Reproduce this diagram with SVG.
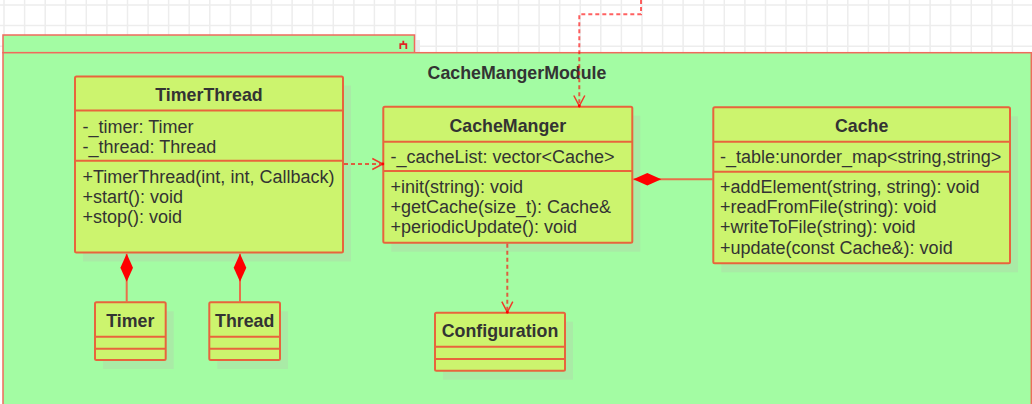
<svg xmlns="http://www.w3.org/2000/svg" width="1032" height="404" viewBox="0 0 1032 404">
<defs>
<style>
.cls{fill:#CCF46E;stroke:#E8643C;stroke-width:2}
.sh{fill:#A9EBA6}
.div{stroke:#E8643C;stroke-width:2}
.t{font-family:"Liberation Sans",Arial,sans-serif;font-size:18px;fill:#333333}
.b{font-weight:bold;text-anchor:middle;font-size:17.8px}
.dash{fill:none;stroke:#FF0000;stroke-opacity:0.62;stroke-width:2;stroke-dasharray:4 3}
.comp{fill:none;stroke:#E8704A;stroke-width:2}
.grid{fill:none;stroke:#EDEDED;stroke-width:1.5}
.pkg{fill:#A3FCA3;stroke:#F06A5C;stroke-width:1.5}
</style>
<marker id="open" markerUnits="userSpaceOnUse" markerWidth="14" markerHeight="14" refX="11" refY="6" orient="auto" overflow="visible">
<path d="M0.5,0.5 L11,6 L0.5,11.5" fill="none" stroke="#F03A2A" stroke-width="1.5"/>
<circle cx="11" cy="6" r="1.4" fill="#FF0000"/>
</marker>
<marker id="diamond" markerUnits="userSpaceOnUse" markerWidth="30" markerHeight="14" refX="0" refY="6.3" orient="auto" overflow="visible">
<path d="M0,6.3 L14,0 L28,6.3 L14,12.6 Z" fill="#FF0000"/>
</marker>
</defs>
<rect width="1032" height="404" fill="#FFFFFF"/>
<path class="grid" d="M4,0V60M24.6,0V60M45.2,0V60M65.7,0V60M86.3,0V60M106.9,0V60M127.5,0V60M148.1,0V60M168.6,0V60M189.2,0V60M209.8,0V60M230.4,0V60M251,0V60M271.5,0V60M292.1,0V60M312.7,0V60M333.3,0V60M353.9,0V60M374.4,0V60M395,0V60M415.6,0V60M436.2,0V60M456.8,0V60M477.3,0V60M497.9,0V60M518.5,0V60M539.1,0V60M559.7,0V60M580.2,0V60M600.8,0V60M621.4,0V60M642,0V60M662.6,0V60M683.1,0V60M703.7,0V60M724.3,0V60M744.9,0V60M765.5,0V60M786,0V60M806.6,0V60M827.2,0V60M847.8,0V60M868.4,0V60M888.9,0V60M909.5,0V60M930.1,0V60M950.7,0V60M971.3,0V60M991.8,0V60M1012.4,0V60M0,5H1032M0,25.6H1032M0,46.2H1032"/>

<g id="CacheMangerModule">
<rect x="8" y="40" width="412" height="13" fill="#EBEBEB"/>
<rect class="pkg" x="3" y="35" width="411.5" height="17.7"/>
<rect class="pkg" x="3" y="52.7" width="1028.3" height="370"/>
<path d="M400.3,49V44.2H406.3V49M403.3,44.2V40.8" fill="none" stroke="#E02424" stroke-width="1.8"/>
<text class="t b" x="517" y="79">CacheMangerModule</text>
</g>

<g id="TimerThread">
<rect class="sh" x="83" y="85.5" width="268" height="176"/>
<rect class="cls" x="75" y="76.5" width="268" height="176" rx="1.5"/>
<line class="div" x1="75" y1="110.5" x2="343" y2="110.5"/>
<line class="div" x1="75" y1="160.7" x2="343" y2="160.7"/>
<text class="t b" x="209" y="100.7">TimerThread</text>
<text class="t" x="82.5" y="132.5">-_timer: Timer</text>
<text class="t" x="82.5" y="152.7">-_thread: Thread</text>
<text class="t" x="82.5" y="183.3">+TimerThread(int, int, Callback)</text>
<text class="t" x="82.5" y="203.3">+start(): void</text>
<text class="t" x="82.5" y="223.3">+stop(): void</text>
</g>

<g id="CacheManger">
<rect class="sh" x="391.3" y="115.7" width="249" height="136"/>
<rect class="cls" x="383.3" y="106.7" width="249" height="136" rx="1.5"/>
<line class="div" x1="383.3" y1="141.7" x2="632.3" y2="141.7"/>
<line class="div" x1="383.3" y1="171" x2="632.3" y2="171"/>
<text class="t b" x="507.8" y="131.7">CacheManger</text>
<text class="t" x="390.5" y="163.3">-_cacheList: vector&lt;Cache&gt;</text>
<text class="t" x="390.5" y="193.3">+init(string): void</text>
<text class="t" x="390.5" y="213.3">+getCache(size_t): Cache&amp;</text>
<text class="t" x="390.5" y="233.3">+periodicUpdate(): void</text>
</g>

<g id="Cache">
<rect class="sh" x="721.3" y="116.3" width="296.7" height="156"/>
<rect class="cls" x="713.3" y="107.3" width="296.7" height="156" rx="1.5"/>
<line class="div" x1="713.3" y1="141.7" x2="1010" y2="141.7"/>
<line class="div" x1="713.3" y1="171.7" x2="1010" y2="171.7"/>
<text class="t b" x="861.7" y="131.7">Cache</text>
<text class="t" x="720" y="163.3">-_table:unorder_map&lt;string,string&gt;</text>
<text class="t" x="720" y="193.3">+addElement(string, string): void</text>
<text class="t" x="720" y="213.3">+readFromFile(string): void</text>
<text class="t" x="720" y="233.3">+writeToFile(string): void</text>
<text class="t" x="720" y="254.3">+update(const Cache&amp;): void</text>
</g>

<g id="Timer">
<rect class="sh" x="103" y="311.3" width="70.7" height="57.7"/>
<rect class="cls" x="95" y="302.3" width="70.7" height="57.7" rx="1.5"/>
<line class="div" x1="95" y1="336.7" x2="165.7" y2="336.7"/>
<line class="div" x1="95" y1="348.7" x2="165.7" y2="348.7"/>
<text class="t b" x="130.3" y="326.7">Timer</text>
</g>

<g id="Thread">
<rect class="sh" x="217.3" y="311.3" width="70.7" height="57.7"/>
<rect class="cls" x="209.3" y="302.3" width="70.7" height="57.7" rx="1.5"/>
<line class="div" x1="209.3" y1="336.7" x2="280" y2="336.7"/>
<line class="div" x1="209.3" y1="348.7" x2="280" y2="348.7"/>
<text class="t b" x="244.7" y="326.7">Thread</text>
</g>

<g id="Configuration">
<rect class="sh" x="443" y="321.7" width="130" height="58"/>
<rect class="cls" x="435" y="312.7" width="130" height="58" rx="1.5"/>
<line class="div" x1="435" y1="346.7" x2="565" y2="346.7"/>
<line class="div" x1="435" y1="359" x2="565" y2="359"/>
<text class="t b" x="500" y="336.7">Configuration</text>
</g>

<g id="connectors">
<path class="dash" d="M641,0V14.3H579.3V106" marker-end="url(#open)"/>
<path class="dash" d="M344,164H382.8" marker-end="url(#open)"/>
<path class="dash" d="M507.3,243.8V312.2" marker-end="url(#open)"/>
<path class="comp" d="M126.7,253.7V302.3" marker-start="url(#diamond)"/>
<path class="comp" d="M240,253.7V302.3" marker-start="url(#diamond)"/>
<path class="comp" d="M633.3,179.3H713.3" marker-start="url(#diamond)"/>
</g>
</svg>
